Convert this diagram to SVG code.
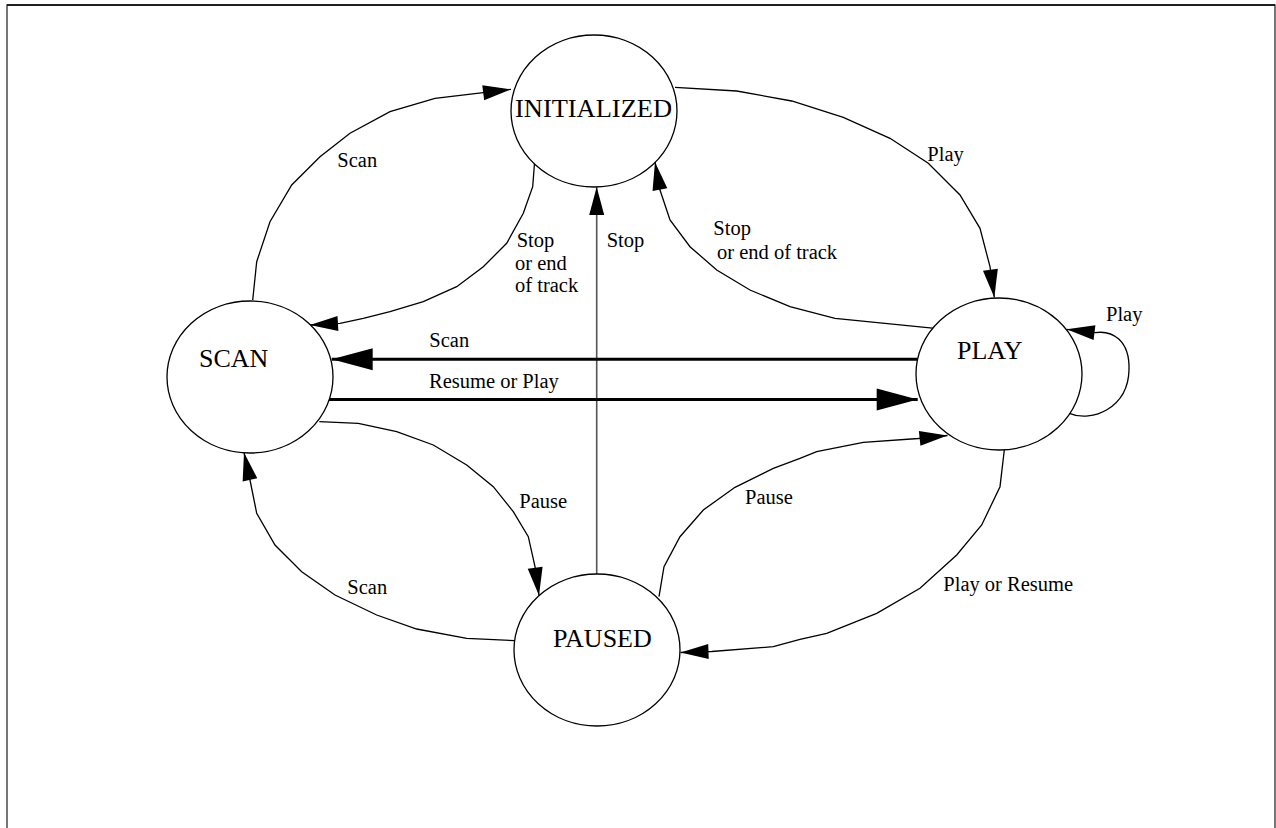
<svg xmlns="http://www.w3.org/2000/svg" width="1276" height="828" viewBox="0 0 1276 828">
<style>
.node{fill:#fff;stroke:#000;stroke-width:1.3}
.nt{font-family:"Liberation Serif","Times New Roman",serif;font-size:26px;fill:#000}
.lb{font-family:"Liberation Serif","Times New Roman",serif;font-size:20.5px;fill:#000}
.c{fill:none;stroke:#000;stroke-width:1.3;marker-end:url(#ah)}
.thick{fill:none;stroke:#000;stroke-width:3;marker-end:url(#ahb)}
.gray{fill:none;stroke:#555;stroke-width:1.6;marker-end:url(#ah)}
</style>
<defs>
<marker id="ah" markerUnits="userSpaceOnUse" markerWidth="29" markerHeight="16" refX="28" refY="7.5" orient="auto" overflow="visible">
<path d="M0,0 L28,7.5 L0,15 z" fill="#000"/>
</marker>
<marker id="ahb" markerUnits="userSpaceOnUse" markerWidth="42" markerHeight="23" refX="41" refY="11" orient="auto" overflow="visible">
<path d="M0,0 L41,11 L0,22 z" fill="#000"/>
</marker>
</defs>
<rect width="1276" height="828" fill="#fff"/>
<path d="M7,840 L7,5 L1275,5 L1275,840" fill="none" stroke="#555" stroke-width="1.6"/>
<line x1="7" y1="5" x2="1275" y2="5" stroke="#000" stroke-width="1.6"/>

<g id="connectors">
<polyline class="c" points="252.7,300 256.7,261.7 270,221.7 291.7,185 320,156.7 350,133.3 390,111.7 435,98.3 483.3,92.7 511,89.3"/>
<polyline class="c" points="535,156.7 532.7,186.7 523.3,213.3 506.7,243.3 483.3,266.7 456.7,286.7 423.3,301.7 390,311.7 363.3,318.3 340,323.3 310,325"/>
<polyline class="gray" points="596.7,574 596.7,187"/>
<polyline class="c" points="675,87.3 736.7,91 791.7,101 843.3,117.3 890,138.3 928.3,163.3 960,195 980,228.3 990,266.7 994.3,297.5"/>
<polyline class="c" points="935,328.3 835,318.3 790,306.7 750,290 716.7,270 690,246.7 670,220 660,190 655,162"/>
<polyline class="thick" points="919,359.3 331.7,359.3"/>
<polyline class="thick" points="326,399.5 917.7,399.5"/>
<polyline class="c" points="319.3,421.7 358.3,423.3 396.7,431.7 433.3,445 466.7,465 493.3,486.7 513.3,511.7 528.3,536.7 535,566.7 539,595.5"/>
<polyline class="c" points="515,640.7 466.7,638.3 416.7,629 376.7,615 335,595 301.7,571.7 275,545 256.7,513.3 250,480 244,452.5"/>
<polyline class="c" points="659,596.7 664,566.7 680,536.7 703.3,510 735,487.3 773.3,468.3 800,458.3 816.7,451.7 863.3,442.3 918.3,438.5 947.5,435.5"/>
<polyline class="c" points="1004.3,450 1000,486.7 981.7,525 956.7,555 920,588.3 876.7,613.3 826.7,633.3 800,639.3 773.3,646.7 711.7,651.5 680.5,652.5"/>
<path class="c" d="M1069.3,413.3 C1092,423 1128,408 1129,370 C1130,340 1112,330 1095,332.7 L1066.7,329.3"/>
</g>

<g id="INITIALIZED">
<ellipse class="node" cx="594" cy="111" rx="83" ry="76"/>
<text class="nt" x="515" y="117" textLength="157" lengthAdjust="spacingAndGlyphs">INITIALIZED</text>
</g>
<g id="SCAN">
<ellipse class="node" cx="250" cy="377" rx="83" ry="76"/>
<text class="nt" x="199" y="367">SCAN</text>
</g>
<g id="PLAY">
<ellipse class="node" cx="999" cy="374" rx="83" ry="76"/>
<text class="nt" x="957" y="359">PLAY</text>
</g>
<g id="PAUSED">
<ellipse class="node" cx="597" cy="650" rx="83" ry="76"/>
<text class="nt" x="553" y="647">PAUSED</text>
</g>

<g id="labels">
<text class="lb" x="337.3" y="166.7">Scan</text>
<text class="lb" x="516.7" y="246.7">Stop</text>
<text class="lb" x="515" y="270">or end</text>
<text class="lb" x="515" y="292.3">of track</text>
<text class="lb" x="606.7" y="246.7">Stop</text>
<text class="lb" x="927.3" y="161">Play</text>
<text class="lb" x="713.3" y="235">Stop</text>
<text class="lb" x="717" y="259">or end of track</text>
<text class="lb" x="1106" y="321">Play</text>
<text class="lb" x="429.3" y="346.7">Scan</text>
<text class="lb" x="429" y="388.3">Resume or Play</text>
<text class="lb" x="519.3" y="508.3">Pause</text>
<text class="lb" x="347.3" y="594.3">Scan</text>
<text class="lb" x="745" y="504.3">Pause</text>
<text class="lb" x="943.3" y="591">Play or Resume</text>
</g>
</svg>
